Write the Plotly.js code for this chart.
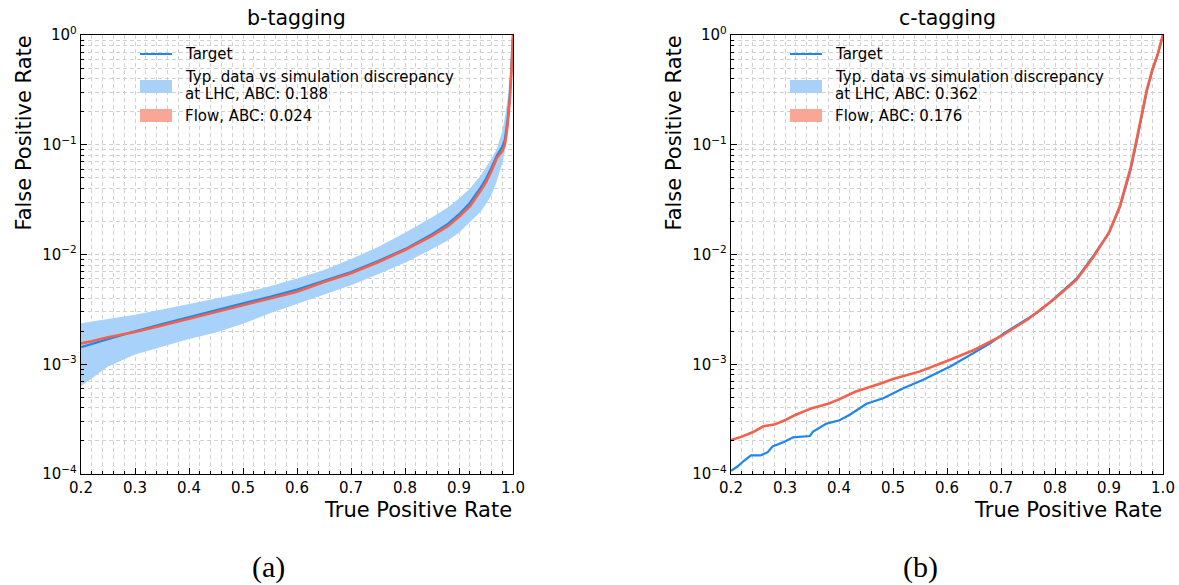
<!DOCTYPE html>
<html>
<head>
<meta charset="utf-8">
<script src="https://cdn.plot.ly/plotly-3.0.1.min.js"></script>
<style>
  html, body { margin: 0; padding: 0; background: #fff; }
  #plot { width: 1179px; height: 585px; }
</style>
</head>
<body>
<div id="plot"></div>
<script>
// ---- b-tagging ROC curves ----
const tprB = [0.20, 0.22, 0.25, 0.30, 0.35, 0.40, 0.45, 0.50, 0.55, 0.60, 0.65, 0.70, 0.75, 0.80,
              0.85, 0.88, 0.90, 0.92, 0.94, 0.95, 0.96, 0.97, 0.98, 0.985, 0.99, 0.994, 0.997, 1.0];
const targetB = [1.43e-3, 1.53e-3, 1.70e-3, 2.00e-3, 2.32e-3, 2.69e-3, 3.09e-3, 3.59e-3, 4.12e-3, 4.79e-3,
                 5.75e-3, 6.92e-3, 8.71e-3, 1.12e-2, 1.53e-2, 1.91e-2, 2.32e-2, 2.95e-2, 4.07e-2, 4.90e-2,
                 6.17e-2, 7.94e-2, 9.55e-2, 0.112, 0.170, 0.275, 0.501, 1.0];
const flowB = [1.55e-3, 1.62e-3, 1.76e-3, 1.97e-3, 2.26e-3, 2.60e-3, 2.99e-3, 3.47e-3, 3.98e-3, 4.57e-3,
               5.62e-3, 6.76e-3, 8.51e-3, 1.10e-2, 1.48e-2, 1.82e-2, 2.21e-2, 2.75e-2, 3.80e-2, 4.57e-2,
               5.75e-2, 7.59e-2, 8.70e-2, 0.100, 0.151, 0.251, 0.447, 1.0];
const bandUpperB = [2.36e-3, 2.45e-3, 2.57e-3, 2.82e-3, 3.16e-3, 3.55e-3, 3.98e-3, 4.47e-3, 5.13e-3, 6.03e-3,
                    7.24e-3, 9.10e-3, 1.17e-2, 1.58e-2, 2.19e-2, 2.69e-2, 3.24e-2, 3.98e-2, 5.25e-2, 6.17e-2,
                    7.41e-2, 9.12e-2, 0.132, 0.178, 0.263, 0.417, 0.661, 1.0];
const bandLowerB = [6.31e-4, 7.41e-4, 9.55e-4, 1.23e-3, 1.45e-3, 1.70e-3, 1.95e-3, 2.34e-3, 2.92e-3, 3.55e-3,
                    4.27e-3, 5.25e-3, 6.61e-3, 8.41e-3, 1.12e-2, 1.35e-2, 1.58e-2, 1.95e-2, 2.45e-2, 2.88e-2,
                    3.47e-2, 4.68e-2, 6.76e-2, 8.71e-2, 0.126, 0.200, 0.355, 1.0];

// ---- c-tagging ROC curves ----
const tprTargetC = [0.200, 0.212, 0.224, 0.237, 0.255, 0.268, 0.277, 0.299, 0.315, 0.346, 0.352, 0.377,
                    0.401, 0.420, 0.451, 0.482, 0.519, 0.556, 0.606, 0.643, 0.680, 0.705, 0.742, 0.767,
                    0.792, 0.84, 0.87, 0.90, 0.92, 0.94, 0.95, 0.96, 0.97, 0.98, 0.99, 1.0];
const targetC = [1.07e-4, 1.17e-4, 1.32e-4, 1.48e-4, 1.48e-4, 1.58e-4, 1.78e-4, 1.97e-4, 2.16e-4, 2.22e-4,
                 2.43e-4, 2.88e-4, 3.09e-4, 3.47e-4, 4.37e-4, 4.90e-4, 6.03e-4, 7.24e-4, 9.55e-4, 1.21e-3,
                 1.55e-3, 1.91e-3, 2.45e-3, 2.95e-3, 3.72e-3, 6.03e-3, 9.55e-3, 1.58e-2, 2.69e-2, 5.89e-2,
                 0.100, 0.178, 0.309, 0.468, 0.661, 1.0];
const tprFlowC = [0.20, 0.22, 0.24, 0.26, 0.28, 0.30, 0.32, 0.35, 0.38, 0.40, 0.43, 0.45, 0.48, 0.50, 0.55,
                  0.60, 0.65, 0.70, 0.75, 0.80, 0.84, 0.87, 0.90, 0.92, 0.94, 0.95, 0.96, 0.97, 0.98, 0.99, 1.0];
const flowC = [2.04e-4, 2.19e-4, 2.40e-4, 2.72e-4, 2.82e-4, 3.09e-4, 3.47e-4, 3.98e-4, 4.37e-4, 4.79e-4,
               5.62e-4, 6.03e-4, 6.76e-4, 7.33e-4, 8.61e-4, 1.07e-3, 1.35e-3, 1.80e-3, 2.57e-3, 3.98e-3,
               5.89e-3, 9.33e-3, 1.58e-2, 2.75e-2, 6.17e-2, 0.105, 0.186, 0.316, 0.479, 0.661, 1.0];

// ---- labels ----
const panelTitles = ['b-tagging', 'c-tagging'];
const panelCaptions = ['(a)', '(b)'];
const xTickVals = [0.2, 0.3, 0.4, 0.5, 0.6, 0.7, 0.8, 0.9, 1.0];
const xTickText = ['0.2', '0.3', '0.4', '0.5', '0.6', '0.7', '0.8', '0.9', '1.0'];
const yTickVals = [1e-4, 1e-3, 1e-2, 1e-1, 1];
const yTickText = ['10<sup>−4</sup>', '10<sup>−3</sup>', '10<sup>−2</sup>', '10<sup>−1</sup>', '10<sup>0</sup>'];
const legendTarget = 'Target';
const legendBand = ['Typ. data vs simulation discrepancy', 'at LHC, ABC: 0.188', 'at LHC, ABC: 0.362'];
const legendFlow = ['Flow, ABC: 0.024', 'Flow, ABC: 0.176'];

// ---- styling ----
const W = 1179, H = 585;
const BLUE = '#1f87ea';
const RED = '#f4604a';
const BAND = '#a8d2fa';
const BAND_PATCH = '#a9d1f8';
const RED_PATCH = '#f8a797';
const GRID = '#d2d2d2';
const FONT = 'DejaVu Sans, sans-serif';
const panels = [{left: 81, right: 513}, {left: 731, right: 1163}];
const plotTop = 35, plotBottom = 474;

const px = x => x / W;
const py = y => 1 - y / H;

// minor tick positions
const xMinor = [];
for (let i = 0; i <= 40; i++) {
  const v = +(0.2 + i * 0.02).toFixed(2);
  if (i % 5 !== 0) xMinor.push(v);
}
const yMinor = [];
for (let e = -4; e < 0; e++) for (let m = 2; m <= 9; m++) yMinor.push(m * Math.pow(10, e));

function xAxis(p, anchor) {
  return {
    domain: [px(p.left), px(p.right)], anchor: anchor, range: [0.2, 1.0],
    tickmode: 'array', tickvals: xTickVals, ticktext: xTickText,
    ticks: 'inside', ticklen: 6, tickwidth: 1, tickcolor: '#000',
    showline: true, linecolor: '#000', linewidth: 1.2, mirror: true,
    showgrid: true, gridcolor: GRID, gridwidth: 1, griddash: '4px,3px',
    zeroline: false, fixedrange: true,
    tickfont: {family: FONT, size: 15, color: '#000'},
    minor: {tickvals: xMinor, ticks: 'inside', ticklen: 3, tickwidth: 1, tickcolor: '#000',
            showgrid: true, gridcolor: GRID, gridwidth: 1, griddash: '4px,3px'}
  };
}
function yAxis(anchor) {
  return {
    type: 'log', domain: [py(plotBottom), py(plotTop)], anchor: anchor, range: [-4, 0],
    tickmode: 'array', tickvals: yTickVals, ticktext: yTickText,
    ticks: 'inside', ticklen: 6, tickwidth: 1, tickcolor: '#000',
    showline: true, linecolor: '#000', linewidth: 1.2, mirror: true,
    showgrid: true, gridcolor: GRID, gridwidth: 1, griddash: '4px,3px',
    zeroline: false, fixedrange: true,
    tickfont: {family: FONT, size: 15, color: '#000'},
    minor: {tickvals: yMinor, ticks: 'inside', ticklen: 3, tickwidth: 1, tickcolor: '#000',
            showgrid: true, gridcolor: GRID, gridwidth: 1, griddash: '4px,3px'}
  };
}

const traces = [
  // b-tagging: discrepancy band
  {x: tprB, y: bandLowerB, xaxis: 'x', yaxis: 'y', mode: 'lines', line: {width: 0, color: BAND},
   showlegend: false, hoverinfo: 'skip'},
  {x: tprB, y: bandUpperB, xaxis: 'x', yaxis: 'y', mode: 'lines', line: {width: 0, color: BAND},
   fill: 'tonexty', fillcolor: BAND, showlegend: false, hoverinfo: 'skip'},
  {x: tprB, y: targetB, xaxis: 'x', yaxis: 'y', mode: 'lines', line: {width: 2.2, color: BLUE}, showlegend: false},
  {x: tprB, y: flowB, xaxis: 'x', yaxis: 'y', mode: 'lines', line: {width: 2.6, color: RED}, showlegend: false},
  // c-tagging
  {x: tprTargetC, y: targetC, xaxis: 'x2', yaxis: 'y2', mode: 'lines', line: {width: 2.2, color: BLUE}, showlegend: false},
  {x: tprFlowC, y: flowC, xaxis: 'x2', yaxis: 'y2', mode: 'lines', line: {width: 2.6, color: RED}, showlegend: false}
];

const annotations = [];
const shapes = [];
const bandAbc = [legendBand[1], legendBand[2]];

panels.forEach((p, i) => {
  const cx = (p.left + p.right) / 2;
  // panel title
  annotations.push({text: panelTitles[i], x: px(cx), y: py(18), xref: 'paper', yref: 'paper',
    xanchor: 'center', yanchor: 'middle', showarrow: false, font: {family: FONT, size: 20.5, color: '#000'}});
  // axis titles (top / right aligned)
  annotations.push({text: 'False Positive Rate', x: px(p.left - 58), y: py(plotTop - 1), xref: 'paper', yref: 'paper',
    xanchor: 'center', yanchor: 'top', textangle: -90, showarrow: false,
    font: {family: FONT, size: 21, color: '#000'}});
  annotations.push({text: 'True Positive Rate', x: px(p.right + 1), y: py(510), xref: 'paper', yref: 'paper',
    xanchor: 'right', yanchor: 'middle', showarrow: false, font: {family: FONT, size: 21, color: '#000'}});
  // caption
  annotations.push({text: panelCaptions[i], x: px(i === 0 ? 268 : 920), y: py(567), xref: 'paper', yref: 'paper',
    xanchor: 'center', yanchor: 'middle', showarrow: false,
    font: {family: 'Liberation Serif, serif', size: 30, color: '#000'}});

  // legend
  const lx0 = p.left + 59, lx1 = p.left + 91, tx = p.left + 102;
  shapes.push({type: 'line', xref: 'paper', yref: 'paper', x0: px(lx0), x1: px(lx1), y0: py(54), y1: py(54),
    line: {color: BLUE, width: 2}});
  shapes.push({type: 'rect', xref: 'paper', yref: 'paper', x0: px(lx0), x1: px(lx1), y0: py(80), y1: py(93),
    fillcolor: BAND_PATCH, line: {width: 0}});
  shapes.push({type: 'rect', xref: 'paper', yref: 'paper', x0: px(lx0), x1: px(lx1), y0: py(109), y1: py(122),
    fillcolor: RED_PATCH, line: {width: 0}});
  const rows = [[legendTarget, 54], [legendBand[0], 77], [bandAbc[i], 94], [legendFlow[i], 116]];
  rows.forEach(r => annotations.push({text: r[0], x: px(tx), y: py(r[1]), xref: 'paper', yref: 'paper',
    xanchor: 'left', yanchor: 'middle', showarrow: false, font: {family: FONT, size: 15, color: '#000'}}));
});

const layout = {
  width: W, height: H,
  margin: {l: 0, r: 0, t: 0, b: 0},
  paper_bgcolor: '#fff', plot_bgcolor: '#fff',
  showlegend: false,
  xaxis: xAxis(panels[0], 'y'),
  yaxis: yAxis('x'),
  xaxis2: xAxis(panels[1], 'y2'),
  yaxis2: yAxis('x2'),
  annotations: annotations,
  shapes: shapes
};

Plotly.newPlot('plot', traces, layout, {displayModeBar: false, staticPlot: true});
</script>
</body>
</html>
